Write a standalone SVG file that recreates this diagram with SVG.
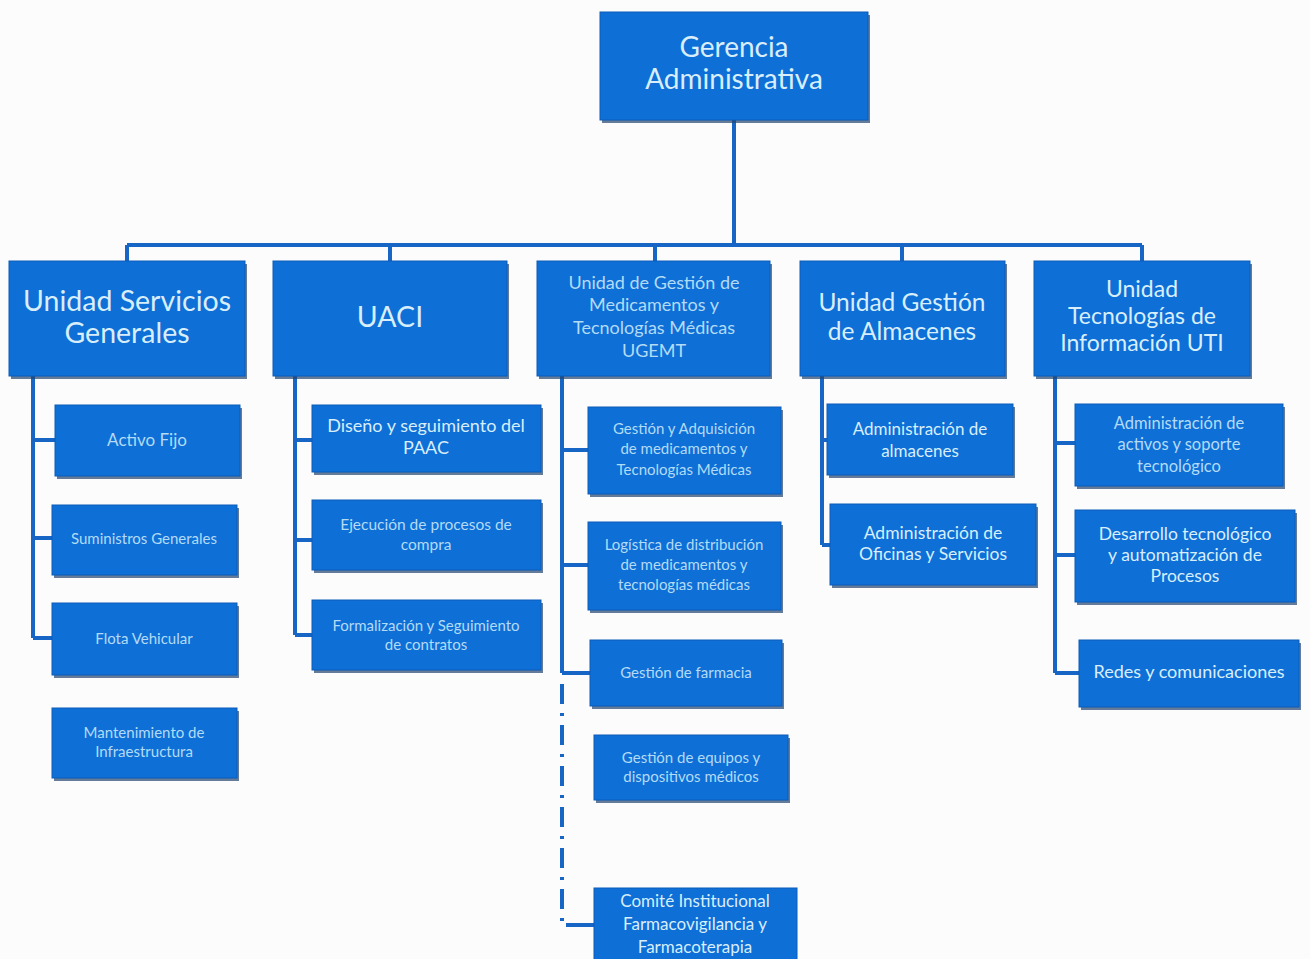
<svg xmlns="http://www.w3.org/2000/svg" width="1310" height="959" viewBox="0 0 1310 959">
<style>
.box{fill:#0e6fd7;stroke:#0b5cb8;stroke-width:1}
.sh{fill:#23456f;opacity:0.7}
.t{font-family:Lato,"Open Sans","Liberation Sans",sans-serif;font-weight:400;fill:#d8eefb;text-anchor:middle}
.f{fill:#b3dbf5}
.ln{stroke:#1766c6;stroke-width:4;fill:none}
.dl{stroke:#1766c6;stroke-width:4;fill:none;stroke-dasharray:20 9 3 9}
</style>
<rect width="1310" height="959" fill="#fcfcfc"/>
<g id="connectors">
<path class="ln" d="M734 120V245M127 245H1142M127 245V261M390 245V261M655 245V261M902 245V261M1142 245V261"/>
<path class="ln" d="M33 376V638M33 440H55M33 538H52M33 638H52"/>
<path class="ln" d="M295 376V635M295 440H312M295 540H312M295 635H312"/>
<path class="ln" d="M562 376V673M562 450H588M562 565H588M562 673H590"/>
<path class="dl" d="M562 684V922"/>
<path class="ln" d="M566 925H594"/>
<path class="ln" d="M822 376V545M822 545H830M822 440H827"/>
<path class="ln" d="M1055 376V673M1055 443H1075M1055 555H1075M1055 673H1079"/>
</g>
<g id="gerencia"><rect class="sh" x="602" y="15" width="268" height="108"/><rect class="box" x="600" y="12" width="268" height="108"/>
<text class="t" x="734" y="57" font-size="28">Gerencia</text><text class="t" x="734" y="89" font-size="28">Administrativa</text></g>
<g id="usg"><rect class="sh" x="11" y="264" width="236" height="115"/><rect class="box" x="9" y="261" width="236" height="115"/>
<text class="t" x="127" y="311" font-size="28.5">Unidad Servicios</text><text class="t" x="127" y="343" font-size="28.5">Generales</text></g>
<g id="uaci"><rect class="sh" x="275" y="264" width="234" height="115"/><rect class="box" x="273" y="261" width="234" height="115"/>
<text class="t" x="390" y="327" font-size="28.5">UACI</text></g>
<g id="ugemt"><rect class="sh" x="539" y="264" width="233" height="115"/><rect class="box" x="537" y="261" width="233" height="115"/>
<text class="t f" x="654" y="289" font-size="18">Unidad de Gestión de</text><text class="t f" x="654" y="311" font-size="18">Medicamentos y</text><text class="t f" x="654" y="334" font-size="18">Tecnologías Médicas</text><text class="t f" x="654" y="357" font-size="18">UGEMT</text></g>
<g id="almacenes"><rect class="sh" x="802" y="264" width="205" height="115"/><rect class="box" x="800" y="261" width="205" height="115"/>
<text class="t" x="902" y="311" font-size="24.5">Unidad Gestión</text><text class="t" x="902" y="340" font-size="24.5">de Almacenes</text></g>
<g id="uti"><rect class="sh" x="1036" y="264" width="216" height="115"/><rect class="box" x="1034" y="261" width="216" height="115"/>
<text class="t" x="1142" y="297" font-size="23">Unidad</text><text class="t" x="1142" y="324" font-size="23">Tecnologías de</text><text class="t" x="1142" y="351" font-size="23">Información UTI</text></g>

<g id="activo-fijo"><rect class="sh" x="57" y="408" width="185" height="71"/><rect class="box" x="55" y="405" width="185" height="71"/>
<text class="t f" x="147" y="446" font-size="17">Activo Fijo</text></g>
<g id="suministros"><rect class="sh" x="54" y="508" width="185" height="70"/><rect class="box" x="52" y="505" width="185" height="70"/>
<text class="t f" x="144" y="544" font-size="15">Suministros Generales</text></g>
<g id="flota"><rect class="sh" x="54" y="606" width="185" height="72"/><rect class="box" x="52" y="603" width="185" height="72"/>
<text class="t f" x="144" y="644" font-size="15">Flota Vehicular</text></g>
<g id="mantenimiento"><rect class="sh" x="54" y="711" width="185" height="70"/><rect class="box" x="52" y="708" width="185" height="70"/>
<text class="t f" x="144" y="738" font-size="15">Mantenimiento de</text><text class="t f" x="144" y="757" font-size="15">Infraestructura</text></g>

<g id="diseno"><rect class="sh" x="314" y="408" width="229" height="67"/><rect class="box" x="312" y="405" width="229" height="67"/>
<text class="t" x="426" y="432" font-size="18">Diseño y seguimiento del</text><text class="t" x="426" y="454" font-size="18">PAAC</text></g>
<g id="ejecucion"><rect class="sh" x="314" y="503" width="229" height="70"/><rect class="box" x="312" y="500" width="229" height="70"/>
<text class="t f" x="426" y="530" font-size="15.5">Ejecución de procesos de</text><text class="t f" x="426" y="550" font-size="15.5">compra</text></g>
<g id="formalizacion"><rect class="sh" x="314" y="603" width="229" height="70"/><rect class="box" x="312" y="600" width="229" height="70"/>
<text class="t f" x="426" y="631" font-size="15">Formalización y Seguimiento</text><text class="t f" x="426" y="650" font-size="15">de contratos</text></g>

<g id="gestion-adquisicion"><rect class="sh" x="590" y="410" width="193" height="87"/><rect class="box" x="588" y="407" width="193" height="87"/>
<text class="t f" x="684" y="434" font-size="15">Gestión y Adquisición</text><text class="t f" x="684" y="454" font-size="15">de medicamentos y</text><text class="t f" x="684" y="475" font-size="15">Tecnologías Médicas</text></g>
<g id="logistica"><rect class="sh" x="590" y="525" width="193" height="88"/><rect class="box" x="588" y="522" width="193" height="88"/>
<text class="t f" x="684" y="550" font-size="15">Logística de distribución</text><text class="t f" x="684" y="570" font-size="15">de medicamentos y</text><text class="t f" x="684" y="590" font-size="15">tecnologías médicas</text></g>
<g id="farmacia"><rect class="sh" x="592" y="643" width="192" height="66"/><rect class="box" x="590" y="640" width="192" height="66"/>
<text class="t f" x="686" y="678" font-size="15">Gestión de farmacia</text></g>
<g id="equipos"><rect class="sh" x="596" y="738" width="194" height="65"/><rect class="box" x="594" y="735" width="194" height="65"/>
<text class="t f" x="691" y="763" font-size="15">Gestión de equipos y</text><text class="t f" x="691" y="782" font-size="15">dispositivos médicos</text></g>
<g id="comite"><rect class="box" x="594" y="888" width="203" height="75"/>
<text class="t" x="695" y="907" font-size="17">Comité Institucional</text><text class="t" x="695" y="930" font-size="17">Farmacovigilancia y</text><text class="t" x="695" y="953" font-size="17">Farmacoterapia</text></g>

<g id="adm-almacenes"><rect class="sh" x="829" y="407" width="186" height="71"/><rect class="box" x="827" y="404" width="186" height="71"/>
<text class="t" x="920" y="435" font-size="17">Administración de</text><text class="t" x="920" y="457" font-size="17">almacenes</text></g>
<g id="oficinas"><rect class="sh" x="832" y="507" width="206" height="81"/><rect class="box" x="830" y="504" width="206" height="81"/>
<text class="t" x="933" y="539" font-size="17.5">Administración de</text><text class="t" x="933" y="560" font-size="17.5">Oficinas y Servicios</text></g>

<g id="adm-activos"><rect class="sh" x="1077" y="407" width="208" height="82"/><rect class="box" x="1075" y="404" width="208" height="82"/>
<text class="t f" x="1179" y="429" font-size="16.5">Administración de</text><text class="t f" x="1179" y="450" font-size="16.5">activos y soporte</text><text class="t f" x="1179" y="472" font-size="16.5">tecnológico</text></g>
<g id="desarrollo"><rect class="sh" x="1077" y="513" width="220" height="92"/><rect class="box" x="1075" y="510" width="220" height="92"/>
<text class="t" x="1185" y="540" font-size="17.5">Desarrollo tecnológico</text><text class="t" x="1185" y="561" font-size="17.5">y automatización de</text><text class="t" x="1185" y="582" font-size="17.5">Procesos</text></g>
<g id="redes"><rect class="sh" x="1081" y="643" width="220" height="67"/><rect class="box" x="1079" y="640" width="220" height="67"/>
<text class="t" x="1189" y="678" font-size="18">Redes y comunicaciones</text></g>
</svg>
